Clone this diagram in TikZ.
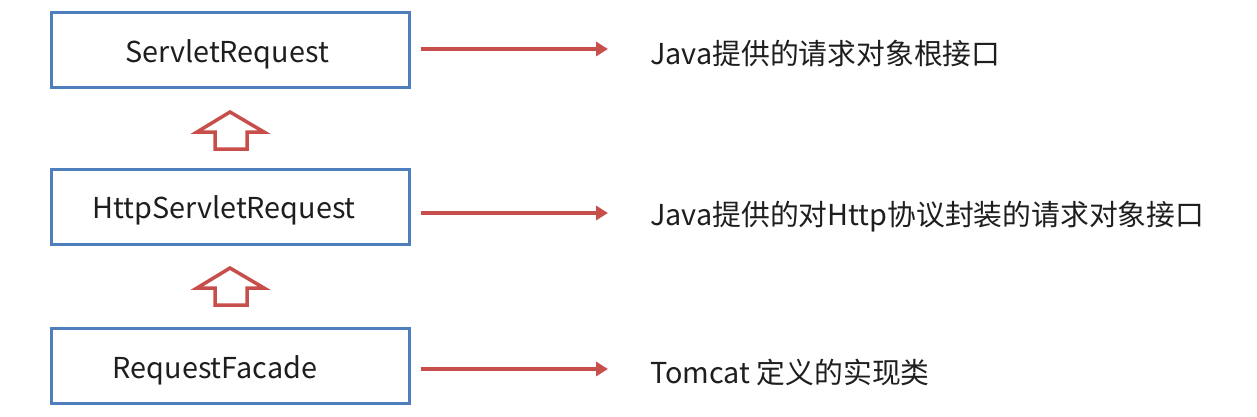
\documentclass[tikz,border=0pt]{standalone}
\usepackage{fontspec}
\setmainfont{Noto Sans CJK SC}
\usetikzlibrary{arrows.meta}
\definecolor{boxblue}{RGB}{79,126,189}
\definecolor{arrred}{RGB}{200,78,76}
\definecolor{txt}{RGB}{30,30,30}
\begin{document}
\begin{tikzpicture}[x=1pt,y=-1pt,
  cls/.style={draw=boxblue,line width=3pt,minimum width=358pt,minimum height=75pt,inner sep=0pt,font=\fontsize{28.8}{32}\selectfont,text=txt},
  lbl/.style={inner sep=0pt,font=\fontsize{28.8}{32}\selectfont,text=txt},
  desc/.style={anchor=west,inner sep=0pt,font=\fontsize{28.8}{32}\selectfont,text=txt},
  rel/.style={draw=arrred,line width=4pt,-{Triangle[length=12pt,width=14pt]}},
  inh/.style={draw=arrred,line width=3.5pt,fill=white,line join=miter}]
\useasboundingbox (0,0) rectangle (1257,417);
\node[cls] (a) at (230,50.5) {};
\node[cls] (b) at (230,206.5) {};
\node[cls] (c) at (230,365.5) {};
\node[lbl] (la) at (227,54) {ServletRequest};
\node[lbl] (lb) at (224,210) {HttpServletRequest};
\node[lbl] (lc) at (215,370) {RequestFacade};
\node[desc] (ta) at (650,54) {Java提供的请求对象根接口};
\node[desc] (tb) at (650,217) {Java提供的对Http协议封装的请求对象接口};
\node[desc] (tc) at (650,372) {Tomcat 定义的实现类};
\coordinate (ea) at (608,49);
\coordinate (eb) at (608,213);
\coordinate (ec) at (608,369);
\draw[rel] ([xshift=10pt]a.east|-ea) -- (ea);
\draw[rel] ([xshift=10pt]b.east|-eb) -- (eb);
\draw[rel] ([xshift=10pt]c.east|-ec) -- (ec);
\draw[inh] (230,112) -- (264,132) -- (247,132) -- (247,149) -- (215,149) -- (215,132) -- (197,132) -- cycle;
\draw[inh] (230,268) -- (264,288) -- (247,288) -- (247,305) -- (215,305) -- (215,288) -- (197,288) -- cycle;
\end{tikzpicture}
\end{document}
